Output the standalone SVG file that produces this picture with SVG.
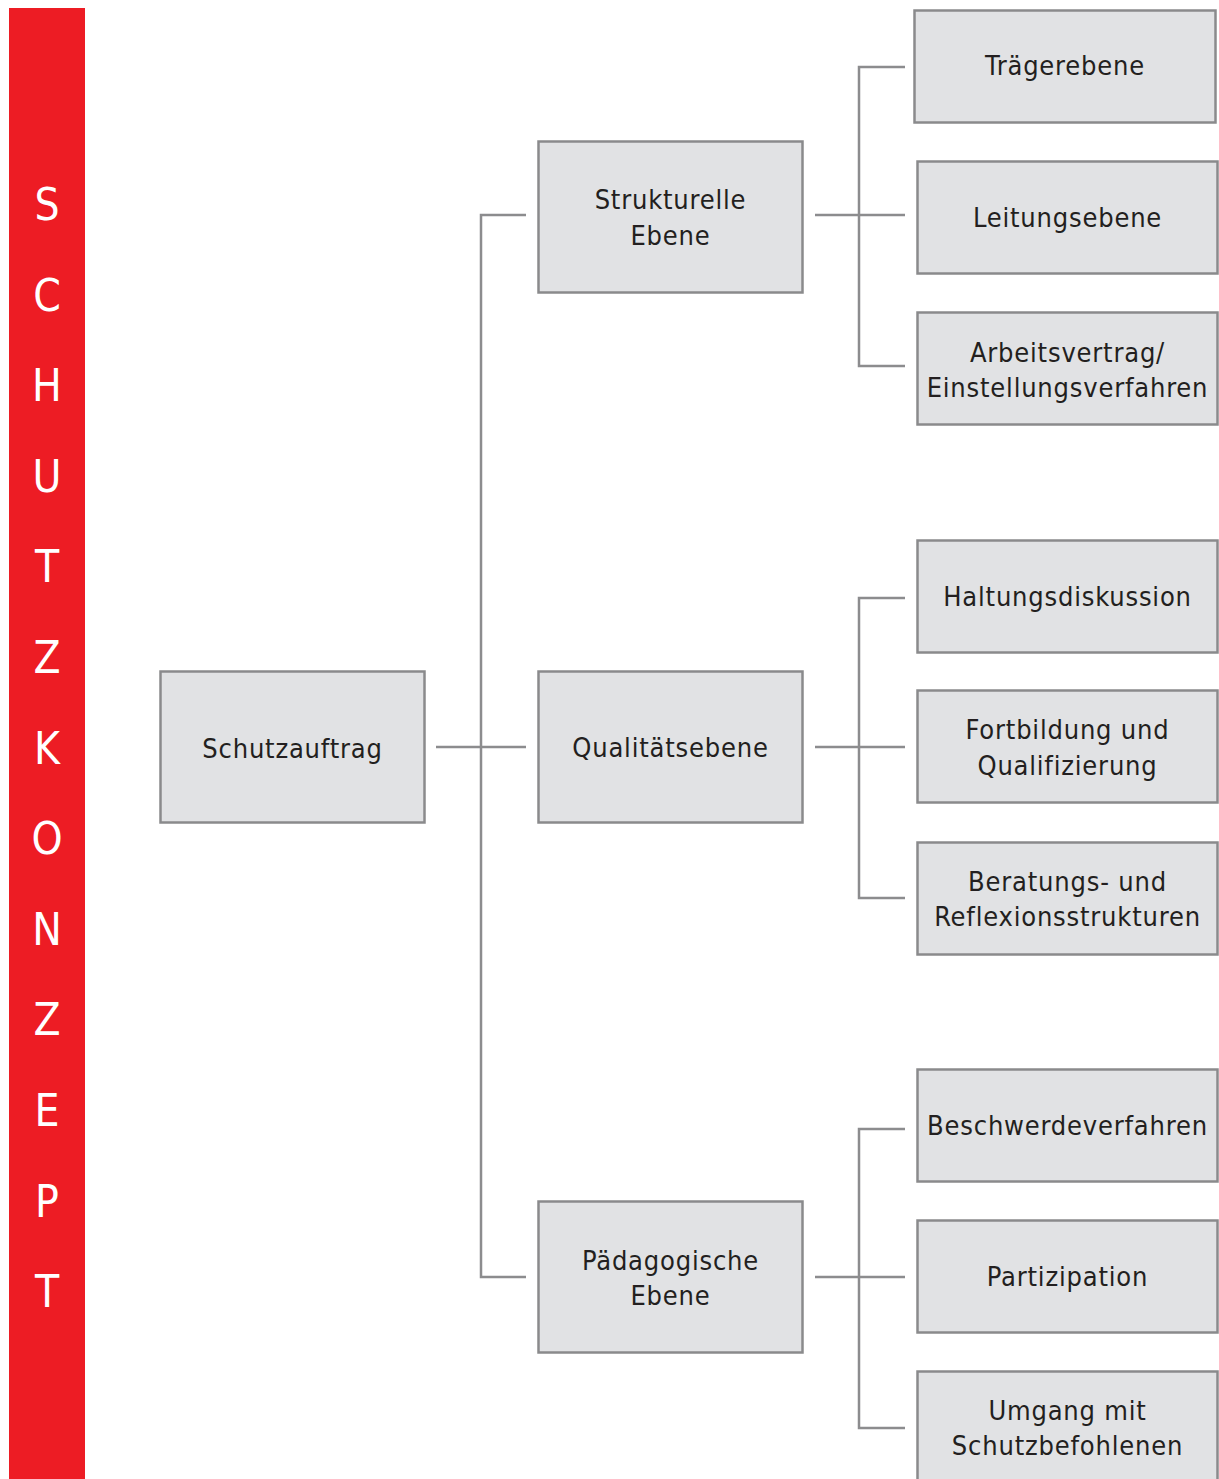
<svg xmlns="http://www.w3.org/2000/svg" width="1219" height="1479" viewBox="0 0 1219 1479">
<style>
.box{fill:#e1e2e4;stroke:#8a8a8c;stroke-width:2.5}
.lbl{font-family:"DejaVu Sans Condensed","DejaVu Sans","Liberation Sans Narrow",sans-serif;font-stretch:condensed;font-size:27px;fill:#231f20;text-anchor:middle;letter-spacing:0.8px}
.side{font-family:"DejaVu Sans Condensed","DejaVu Sans",sans-serif;font-stretch:condensed;font-size:44px;fill:#ffffff;text-anchor:middle}
.con{stroke:#8c8c8e;stroke-width:2.5;fill:none}
</style>
<rect width="1219" height="1479" fill="#ffffff"/>
<g id="sidebar">
<rect x="9" y="8" width="76" height="1471" fill="#ed1c24"/>
<text class="side" x="47" y="220">S</text>
<text class="side" x="47" y="310.6">C</text>
<text class="side" x="47" y="401.2">H</text>
<text class="side" x="47" y="491.8">U</text>
<text class="side" x="47" y="582.4">T</text>
<text class="side" x="47" y="673">Z</text>
<text class="side" x="47" y="763.6">K</text>
<text class="side" x="47" y="854.2">O</text>
<text class="side" x="47" y="944.8">N</text>
<text class="side" x="47" y="1035.4">Z</text>
<text class="side" x="47" y="1126">E</text>
<text class="side" x="47" y="1216.6">P</text>
<text class="side" x="47" y="1307.2">T</text>
</g>
<g id="connectors">
<path class="con" d="M436 747H526M526 215H481V1277H526"/>
<path class="con" d="M815 215H905M905 67H859V366H905M859 215H905"/>
<path class="con" d="M815 747H905M905 598H859V898H905"/>
<path class="con" d="M815 1277H905M905 1129H859V1428H905"/>
</g>
<g id="schutzauftrag"><rect class="box" x="160.5" y="671.5" width="264" height="151"/><text class="lbl" x="292.5" y="758">Schutzauftrag</text></g>
<g id="strukturelle"><rect class="box" x="538.5" y="141.5" width="264" height="151"/><text class="lbl" x="670.5" y="209">Strukturelle</text><text class="lbl" x="670.5" y="245">Ebene</text></g>
<g id="qualitaet"><rect class="box" x="538.5" y="671.5" width="264" height="151"/><text class="lbl" x="670.5" y="757">Qualitätsebene</text></g>
<g id="paedagogisch"><rect class="box" x="538.5" y="1201.5" width="264" height="151"/><text class="lbl" x="670.5" y="1270">Pädagogische</text><text class="lbl" x="670.5" y="1305">Ebene</text></g>
<g id="traeger"><rect class="box" x="914.5" y="10.5" width="301" height="112"/><text class="lbl" x="1065" y="75">Trägerebene</text></g>
<g id="leitung"><rect class="box" x="917.5" y="161.5" width="300" height="112"/><text class="lbl" x="1067.5" y="227">Leitungsebene</text></g>
<g id="arbeitsvertrag"><rect class="box" x="917.5" y="312.5" width="300" height="112"/><text class="lbl" x="1067.5" y="362">Arbeitsvertrag/</text><text class="lbl" x="1067.5" y="397">Einstellungsverfahren</text></g>
<g id="haltung"><rect class="box" x="917.5" y="540.5" width="300" height="112"/><text class="lbl" x="1067.5" y="606">Haltungsdiskussion</text></g>
<g id="fortbildung"><rect class="box" x="917.5" y="690.5" width="300" height="112"/><text class="lbl" x="1067.5" y="739">Fortbildung und</text><text class="lbl" x="1067.5" y="775">Qualifizierung</text></g>
<g id="beratung"><rect class="box" x="917.5" y="842.5" width="300" height="112"/><text class="lbl" x="1067.5" y="891">Beratungs- und</text><text class="lbl" x="1067.5" y="926">Reflexionsstrukturen</text></g>
<g id="beschwerde"><rect class="box" x="917.5" y="1069.5" width="300" height="112"/><text class="lbl" x="1067.5" y="1135">Beschwerdeverfahren</text></g>
<g id="partizipation"><rect class="box" x="917.5" y="1220.5" width="300" height="112"/><text class="lbl" x="1067.5" y="1286">Partizipation</text></g>
<g id="umgang"><rect class="box" x="917.5" y="1371.5" width="300" height="120"/><text class="lbl" x="1067.5" y="1420">Umgang mit</text><text class="lbl" x="1067.5" y="1455">Schutzbefohlenen</text></g>
</svg>
